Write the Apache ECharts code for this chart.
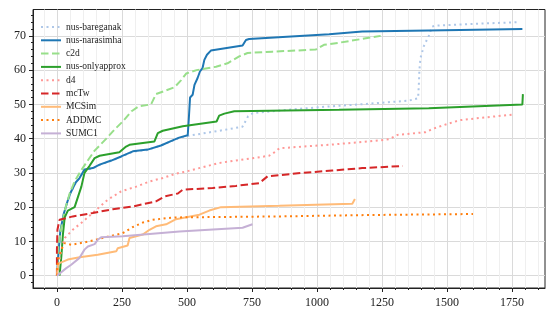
<!DOCTYPE html>
<html>
<head>
<meta charset="utf-8">
<script src="https://cdn.jsdelivr.net/npm/echarts@6/dist/echarts.min.js"></script>
<style>
html, body { margin: 0; padding: 0; background: #fff; }
#main { width: 556px; height: 321px; }
</style>
</head>
<body>
<div id="main"></div>
<script>
// tick values
var xMajorTicks = [0, 250, 500, 750, 1000, 1250, 1500, 1750];
var xMinorTicks = [-50, 0, 50, 100, 150, 200, 250, 300, 350, 400, 450, 500, 550, 600, 650, 700, 750, 800, 850, 900, 950, 1000, 1050, 1100, 1150, 1200, 1250, 1300, 1350, 1400, 1450, 1500, 1550, 1600, 1650, 1700, 1750, 1800, 1850];
var yMajorTicks = [0, 10, 20, 30, 40, 50, 60, 70];
var yMinorTicks = [-2, 0, 2, 4, 6, 8, 10, 12, 14, 16, 18, 20, 22, 24, 26, 28, 30, 32, 34, 36, 38, 40, 42, 44, 46, 48, 50, 52, 54, 56, 58, 60, 62, 64, 66, 68, 70, 72, 74, 76];

// [time, solved]
var bareganak = [[0,0],[7,7],[13,12.5],[26,17.5],[42,22],[51,24],[72,27],[87,28.5],[106,30.8],[138,31.3],[164,32.3],[209,33.5],[247,34.7],[292,36.2],[349,36.7],[400,38],[445,39.4],[470,40.2],[503,40.8],[560,41.5],[640,42.5],[714,43.5],[735,46.5],[755,47.5],[900,48.5],[1046,49.4],[1200,50.2],[1353,51.1],[1389,51.8],[1392,56],[1394,60],[1398,63.5],[1411,67],[1430,70],[1443,72.7],[1456,73],[1600,73.5],[1770,74]];
var narasimha = [[0,0],[7,7.6],[13,13],[26,18],[42,22],[51,24],[72,27.2],[87,28.5],[106,31],[138,31.4],[164,32.4],[209,33.6],[247,34.8],[292,36.3],[349,36.8],[400,38],[445,39.5],[470,40.3],[503,41],[507,45.5],[512,52],[522,52.8],[529,55.7],[541,57.7],[550,59.6],[560,60.6],[567,63],[577,64.5],[592,65.7],[714,67.2],[727,68.8],[739,69.1],[1047,70.5],[1174,71.3],[1430,71.6],[1790,72]];
var c2d = [[0,0],[4,7.6],[17,14],[30,19],[49,24],[68,27.5],[87,30],[113,33],[145,36.5],[190,40],[221,42.6],[253,45],[287,48],[314,49.4],[362,50],[381,53],[452,55],[477,57],[497,59],[537,60],[612,61],[656,62],[701,64],[733,65],[829,65.4],[995,66],[1027,67.4],[1085,68],[1245,70]];
var onlyapprox = [[10,0],[17,5.6],[23,12],[30,17],[42,19],[68,20],[81,23],[94,26],[106,30],[125,32],[145,34.3],[164,35],[240,36],[266,37.7],[279,38.2],[375,39.2],[388,41.6],[407,42.3],[484,43.6],[614,45],[624,46.7],[644,47.3],[682,48],[1085,48.4],[1430,48.9],[1790,50],[1792,53]];
var d4 = [[0,0],[10,4.7],[17,7.6],[30,11],[61,13.4],[100,15.8],[145,18.8],[196,22.2],[247,24.6],[305,26],[356,27.5],[407,28.5],[458,29.8],[497,30.4],[624,32.9],[816,35],[842,36.3],[855,37.2],[1046,38.2],[1200,39.2],[1277,39.8],[1310,41.1],[1418,41.9],[1450,43],[1510,44.5],[1550,45.4],[1622,46],[1750,47]];
var mcTw = [[0,0],[0,7.6],[2,13.4],[10,16.3],[61,17.3],[138,18.3],[215,19.4],[292,20.2],[381,21.7],[413,23.1],[465,24],[484,25.1],[599,25.6],[688,26.2],[778,27],[810,29],[944,30],[1059,30.7],[1174,31.4],[1330,32]];
var mcsim = [[0,0],[2,1.7],[5,3.5],[42,4.7],[87,5.4],[157,6.1],[228,7.1],[234,8],[272,8.8],[279,11],[330,12],[356,13.4],[381,14.4],[420,15],[458,16.5],[548,17.8],[586,19],[631,20],[855,20.4],[1136,21],[1146,22.4]];
var addmc = [[0,0],[4,4.7],[17,7.6],[30,9.5],[55,9],[125,10],[190,11.3],[253,12.4],[292,14.2],[330,15.5],[368,16.3],[420,16.8],[458,17],[855,17.3],[1200,17.7],[1600,18]];
var sumc1 = [[0,0],[36,2.2],[55,3.2],[87,5.2],[106,7.6],[119,8.5],[145,9.2],[157,10.5],[170,11.2],[253,11.5],[471,12.9],[714,14],[752,15]];

var X_MIN = -92, X_MAX = 1877;
var Y_MIN = -3.6, Y_MAX = 77.7;

var FONT = 'Liberation Serif';
var AXIS = '#222';
var GRID_MAJOR = '#dadada';
var GRID_MINOR = '#efefef';
var NONE = 'rgba(0,0,0,0)';

var DOT = [2, 3.5];
var DASH = [7.5, 3.5];

function mk(name, data, color, type) {
    return {
        name: name,
        type: 'line',
        data: data,
        symbol: 'none',
        smooth: false,
        color: color,
        lineStyle: { color: color, width: 2, type: type, cap: 'butt' }
    };
}

function plain(v) { return String(v); }

var chart = echarts.init(document.getElementById('main'));
chart.setOption({
    animation: false,
    backgroundColor: '#fff',
    grid: {
        left: 33, right: 11, top: 9.5, bottom: 33,
        show: true, borderColor: AXIS, borderWidth: 1, backgroundColor: NONE
    },
    legend: {
        orient: 'vertical',
        left: 35, top: 17,
        itemWidth: 20, itemHeight: 8, itemGap: 3.3,
        itemStyle: { opacity: 0 },
        textStyle: { fontFamily: FONT, fontSize: 9.5, color: '#222' },
        data: ['nus-bareganak', 'nus-narasimha', 'c2d', 'nus-onlyapprox', 'd4', 'mcTw', 'MCSim', 'ADDMC', 'SUMC1']
    },
    xAxis: [{
        type: 'value', position: 'bottom', min: X_MIN, max: X_MAX,
        axisLine: { onZero: false, lineStyle: { color: AXIS, width: 1 } },
        axisTick: { customValues: xMinorTicks, length: 2, lineStyle: { color: AXIS } },
        axisLabel: { show: false },
        splitLine: { show: true, lineStyle: { color: [GRID_MINOR, NONE, GRID_MINOR, GRID_MINOR, GRID_MINOR], width: 1 } }
    }, {
        type: 'value', position: 'bottom', min: X_MIN, max: X_MAX,
        axisLine: { show: false, onZero: false },
        axisTick: { customValues: xMajorTicks, length: 4, lineStyle: { color: AXIS } },
        axisLabel: { customValues: xMajorTicks, formatter: plain, margin: 9, fontFamily: FONT, fontSize: 12, color: '#222' },
        splitLine: { show: true, lineStyle: { color: GRID_MAJOR, width: 1 } }
    }],
    yAxis: [{
        type: 'value', position: 'left', min: Y_MIN, max: Y_MAX,
        axisLine: { onZero: false, lineStyle: { color: AXIS, width: 1 } },
        axisTick: { customValues: yMinorTicks, length: 2, lineStyle: { color: AXIS } },
        axisLabel: { show: false },
        splitLine: { show: false }
    }, {
        type: 'value', position: 'left', min: Y_MIN, max: Y_MAX,
        axisLine: { show: false, onZero: false },
        axisTick: { customValues: yMajorTicks, length: 4, lineStyle: { color: AXIS } },
        axisLabel: { customValues: yMajorTicks, formatter: plain, margin: 7, fontFamily: FONT, fontSize: 12, color: '#222' },
        splitLine: { show: true, lineStyle: { color: GRID_MAJOR, width: 1 } }
    }],
    series: [
        mk('nus-bareganak', bareganak, '#aec7e8', DOT),
        mk('nus-narasimha', narasimha, '#1f77b4', 'solid'),
        mk('c2d', c2d, '#98df8a', DASH),
        mk('nus-onlyapprox', onlyapprox, '#2ca02c', 'solid'),
        mk('d4', d4, '#ff9896', DOT),
        mk('mcTw', mcTw, '#d62728', DASH),
        mk('MCSim', mcsim, '#ffbb78', 'solid'),
        mk('ADDMC', addmc, '#ff7f0e', DOT),
        mk('SUMC1', sumc1, '#c5b0d5', 'solid')
    ]
});
</script>
</body>
</html>
